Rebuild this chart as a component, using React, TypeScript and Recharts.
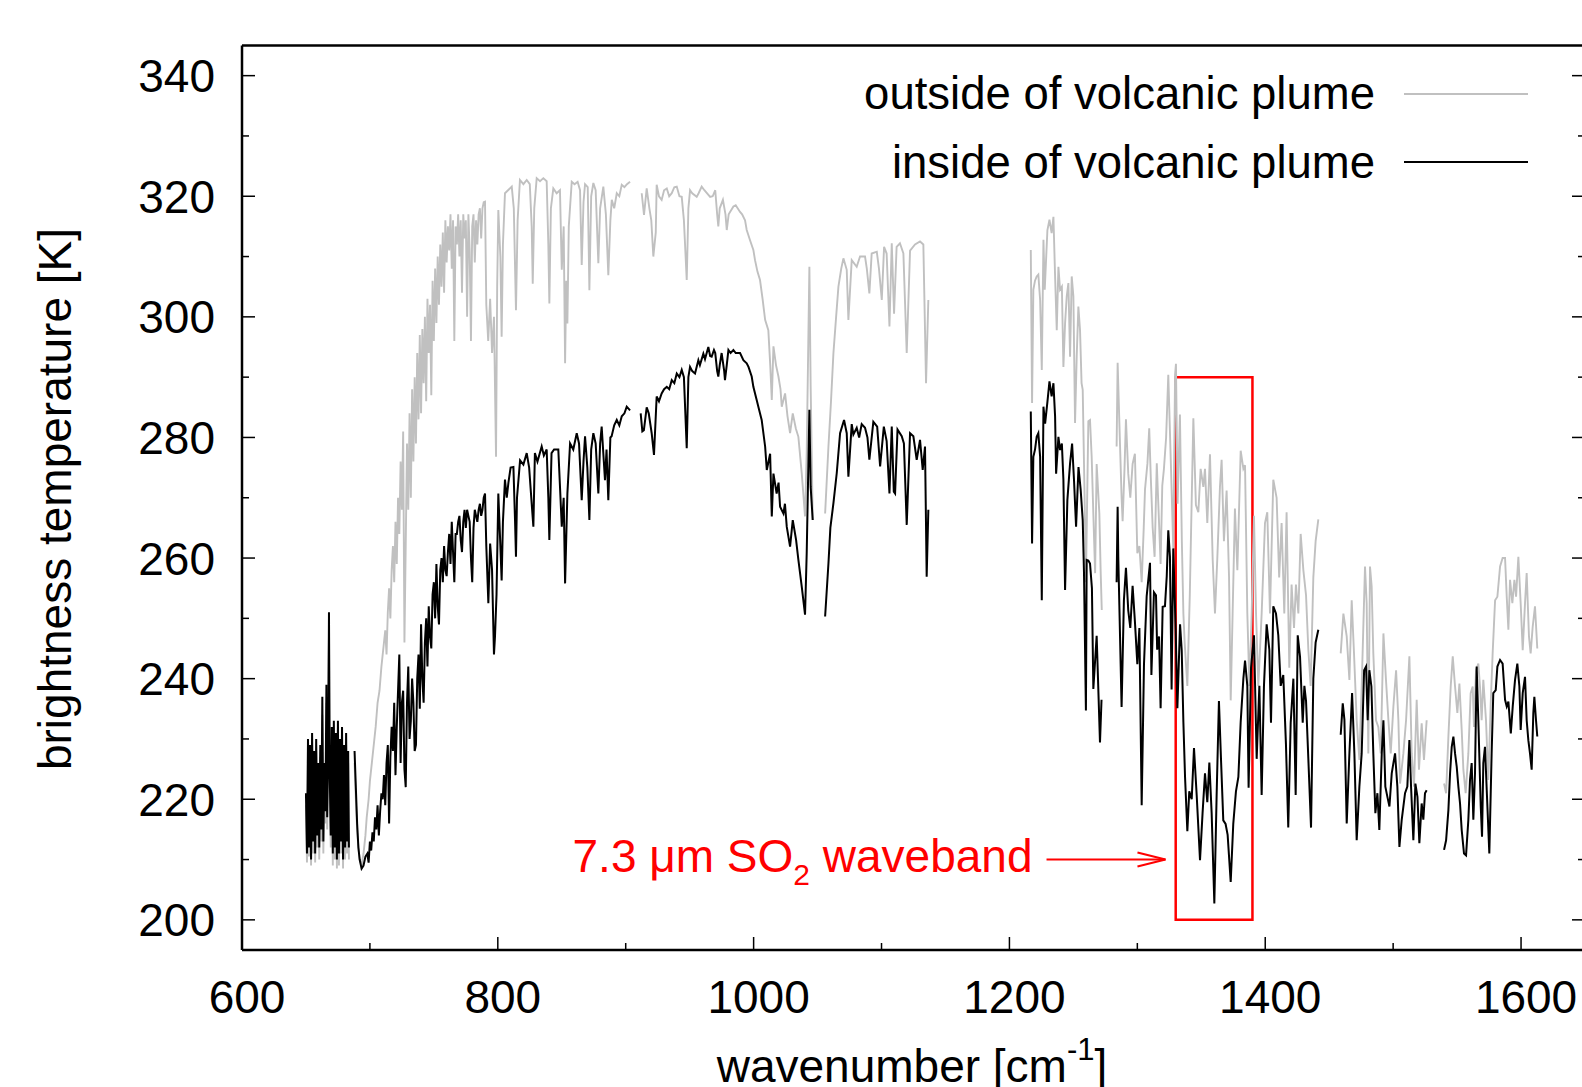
import { LineChart, Line, XAxis, YAxis, ReferenceArea, ReferenceLine } from 'recharts';

type Pt = [number, number];

const xTicks = [600, 700, 800, 900, 1000, 1100, 1200, 1300, 1400, 1500, 1600];
const yTicks = [200, 210, 220, 230, 240, 250, 260, 270, 280, 290, 300, 310, 320, 330, 340];

// inside of volcanic plume (black), one array per continuous piece of spectrum
const inside650: Pt[] = [
  [650, 221], [650.8, 211], [651.6, 230], [652.4, 212], [653.2, 229], [654, 210], [654.8, 231], [655.6, 213],
  [656.4, 228], [657.2, 211], [658, 230], [658.8, 214], [659.6, 226], [660.4, 212], [661.2, 229], [662, 215],
  [662.8, 237], [663.6, 213], [664.4, 226], [665.2, 218], [666, 239], [666.6, 217], [667.4, 228], [668, 251],
  [668.6, 224], [669.4, 214], [670.2, 232], [671, 211], [671.8, 233], [672.6, 212], [673.4, 231], [674.2, 210],
  [675, 233], [675.8, 211], [676.6, 230], [677.4, 213], [678.2, 232], [679, 210], [679.8, 229], [680.6, 212],
  [681.4, 231], [682.2, 213], [683, 228], [683.6, 212]
];
const inside688: Pt[] = [
  [688, 228], [689, 222], [690, 216], [691, 212], [692, 210], [693.5, 208.5], [695, 209], [696.5, 210.5],
  [698, 211], [699, 209.5], [700, 213], [701, 211.5], [702, 214.5], [703, 213], [704, 217], [705, 215],
  [706, 219], [707, 214], [708, 218], [709, 221], [710, 220], [711, 224], [712, 219], [713, 226], [714, 229],
  [715, 216], [716, 227], [717, 232], [718, 228], [719, 236], [720, 224], [721, 232], [722, 238], [723, 244],
  [724, 226], [725, 236], [726, 238], [727, 225], [728, 222], [729, 236], [730, 242], [731, 230], [732, 233],
  [733, 240], [734, 236], [735, 228], [736, 229], [737, 240], [738, 244], [739, 235], [740, 249], [741, 240],
  [742, 236], [743, 246], [744, 250], [745, 242], [746, 252], [747, 247], [748, 245], [749, 254], [750, 256],
  [751, 250], [752, 259], [753, 252], [754, 249], [755, 258], [756, 260], [757, 256], [758, 262], [759, 258],
  [760, 257], [761, 261], [762, 264], [763, 259], [764, 266], [765, 261], [766, 256], [767, 264], [768, 264],
  [769, 266], [770, 267], [771, 263], [772, 261], [773, 266], [774, 268], [775, 265], [776, 268], [777, 267],
  [778, 266], [779, 260], [780, 256], [781, 265], [782, 268], [783, 267], [784, 266], [785, 268], [786, 269],
  [787, 267], [788, 268], [789, 270], [790, 270.7], [791, 262], [792.6, 252.5], [794, 262.4], [795.5, 258],
  [797, 244], [797.8, 247], [799, 254], [800.4, 270.7], [802, 262], [803, 256.3], [804, 266], [805.6, 273],
  [807, 270], [808.3, 272.5], [810, 275], [812.2, 275.1], [813.5, 266], [814.2, 260.2], [815, 270],
  [817.4, 276.2], [820, 275.5], [822.6, 277.4], [824.5, 275], [826.5, 269], [827.8, 265.2], [829, 277.4],
  [831, 276], [834.3, 278.5], [836, 277], [838.2, 278], [839.5, 270], [840.3, 263], [842, 277.4], [844, 278],
  [847.3, 278], [849, 270], [850, 265.2], [851.5, 270], [852.6, 255.8], [854.4, 270.7], [856.5, 279],
  [859, 278], [861.7, 280.7], [863.5, 279], [865.6, 269.6], [867, 276], [868.2, 280.2], [870, 275],
  [871.6, 266.3], [873, 278], [874.7, 280.7], [876.5, 279], [878.6, 270.7], [880, 279], [881.2, 281.8],
  [883.8, 272.9], [885, 278], [886.4, 269.6], [888, 280], [889, 280.2], [891, 282], [893, 282.9], [895, 282],
  [896.9, 283.5], [899, 284], [900.8, 285.1], [903.4, 284.5]
];
const inside912: Pt[] = [
  [911.7, 284], [913, 281], [914.2, 281.2], [916.4, 285], [918, 284], [920.3, 280.7], [922.1, 277.1],
  [924.2, 286.8], [926, 286], [928.1, 287.3], [930, 288], [932.1, 288.4], [934, 288], [936, 289.5], [938, 289],
  [939.9, 290.6], [942, 290], [943.8, 291.2], [945.5, 290], [947.7, 278.2], [949, 290], [950.3, 291.7],
  [952, 291], [954.2, 290.6], [956.8, 292.8], [958, 292], [960.7, 293.9], [962, 293], [964.6, 295],
  [966, 293.5], [967.2, 293.4], [969, 294.5], [970, 294], [971.5, 291], [972.4, 290.1], [973.5, 292],
  [975, 294], [977, 291], [977.6, 289.5], [979, 292], [980.3, 294.5], [982, 294], [984.2, 294.5], [986, 294],
  [988.1, 294], [989.4, 294], [992, 292.8], [994.6, 292.3], [996, 291.7], [998.5, 290.1], [999.8, 288.4],
  [1002.4, 286.2], [1003.7, 285.1], [1006.3, 282.9], [1009, 278.5], [1010.3, 274.6], [1012.9, 277.3],
  [1014.2, 266.9], [1015.5, 274], [1018, 270.7], [1019.5, 272.5], [1020.7, 268.5], [1023.3, 267.4],
  [1024.5, 269], [1025.9, 265.2], [1028.5, 261.9], [1030.6, 266.3], [1033.2, 263], [1035, 259.7],
  [1037.6, 255.3], [1040.2, 250.6], [1041.5, 260.8], [1043.6, 284.6], [1044.6, 271.8], [1046.2, 266.3]
];
const inside1056: Pt[] = [
  [1055.9, 250.3], [1058.5, 259.1], [1060, 265], [1062.4, 269.1], [1065, 274.1], [1067.6, 280.7],
  [1070.7, 282.9], [1072.8, 280.7], [1074.1, 273.5], [1076.7, 282.2], [1078, 280.5], [1080.6, 281.6],
  [1082.5, 280], [1084.5, 282.2], [1087.1, 281.6], [1089, 280], [1090.5, 276.3], [1093.6, 282.6],
  [1096.6, 281.8], [1098.9, 275.2], [1101.8, 281.8], [1104, 279.4], [1106.2, 270.7], [1108, 281.8],
  [1109.6, 271], [1110.6, 270.7], [1112.5, 281.3], [1115.8, 280.2], [1117.5, 279], [1119.7, 265.5],
  [1122.3, 280.7], [1124.9, 280.2], [1127.5, 276.3], [1130.1, 279.6], [1132.2, 274.6], [1134, 278.5],
  [1135.3, 256.9], [1136.6, 268]
];
const inside1217: Pt[] = [
  [1216.7, 284.3], [1217.7, 262.4], [1218.7, 276.8], [1220, 278], [1221.3, 280.1], [1222.6, 280.7],
  [1224, 276.8], [1225.3, 253], [1226.6, 285.1], [1227.9, 282.3], [1229.7, 285.9], [1231.3, 289.3],
  [1233, 286.8], [1234.4, 289], [1235.7, 283.5], [1236.5, 274], [1238.3, 280.1], [1239.6, 277.9], [1241, 279],
  [1242.2, 273], [1243.5, 254.7], [1245.3, 269.6], [1247.4, 275.7], [1249, 279], [1250.5, 272.9],
  [1252.1, 265.2], [1254, 275.1], [1255.7, 271.3], [1257.3, 266.3], [1258.3, 257.5], [1259.8, 234.7],
  [1260.4, 259.7], [1261.7, 259.6], [1263, 259.1], [1264.5, 255], [1265.6, 238.3], [1268.2, 247.1],
  [1270.8, 229.4], [1272, 236.5]
];
const inside1284: Pt[] = [
  [1283.8, 256], [1284.6, 268.5], [1285.1, 260.2], [1287.7, 235.3], [1289.5, 253], [1291.1, 258.4],
  [1292.9, 251.3], [1294.5, 248.4], [1296.3, 255.4], [1298.1, 249.5], [1300, 242.4], [1301.6, 248.4],
  [1303.4, 219], [1305.2, 242.4], [1307.3, 253.7], [1309.9, 259.2], [1311, 240.6], [1313, 254.3],
  [1314.6, 253.8], [1315.5, 244.8], [1317, 247], [1318.2, 235.1], [1319.8, 251.9], [1321.6, 252], [1323, 257],
  [1324.2, 264.6], [1325.5, 260.2], [1326.8, 238.2], [1328.1, 261.6], [1330, 248], [1331.3, 235.1],
  [1333.4, 249], [1334.7, 244.7], [1336, 232.8], [1337.3, 223.7], [1339.1, 214.7], [1340.6, 221.3],
  [1342.5, 220], [1344.3, 228.5], [1346.4, 220.7], [1349, 209.9], [1351, 217.7], [1352.9, 224.3],
  [1354.7, 219.5], [1356.3, 226.1], [1358.1, 217.7], [1360.2, 202.7], [1362, 220.7], [1363.8, 236.3],
  [1365.4, 226.7], [1367.2, 216.5], [1369, 215.9], [1370.6, 214.1], [1373, 206.3], [1375, 215.9],
  [1377.1, 221.3], [1379, 223.7], [1380.8, 232.8], [1382.9, 240], [1384.2, 243], [1386, 238.8], [1387, 221.9],
  [1388.9, 241.8], [1391.2, 247.2], [1393.3, 226.7], [1395.4, 238.8], [1397.2, 220.7], [1399, 238.8],
  [1401.1, 249], [1403.2, 244.8], [1404.5, 232.7], [1406.3, 252], [1408.4, 250.8], [1410.2, 247.2],
  [1412.1, 238.8], [1414.1, 240.6], [1416.2, 229.1], [1418, 215.3], [1419.9, 232.7], [1422, 240],
  [1423.8, 220.7], [1425.4, 247.2], [1427.2, 243.6], [1429.3, 232.7], [1430.6, 238.8], [1431.9, 236.3],
  [1433.7, 226.7], [1435.8, 215.3], [1437.6, 240], [1439.4, 246], [1441.5, 248.1]
];
const inside1459: Pt[] = [
  [1459, 230.7], [1460.6, 235.9], [1461.9, 233.2], [1463.7, 216], [1465.8, 227.6], [1467.9, 237.6],
  [1469.7, 227.6], [1471.5, 213.2], [1473.6, 222.1], [1475.4, 227.6], [1477.3, 241.4], [1478.8, 242],
  [1480.1, 233.1], [1481.4, 241.4], [1483, 238.7], [1484.5, 227.6], [1486.1, 217.7], [1487.7, 221],
  [1489.2, 214.9], [1491.1, 227.6], [1492.4, 233.1], [1493.9, 222.1], [1495.5, 220.4], [1497.1, 218.8],
  [1498.9, 224.3], [1500.2, 226], [1501.5, 227.6], [1503.3, 222.1], [1504.9, 212.1], [1506.7, 216.6],
  [1509.3, 221], [1511.1, 222.1], [1512.7, 229.8], [1514, 222.1], [1515.8, 213.2], [1517.4, 222.6],
  [1519, 220.4], [1520.5, 212.7], [1522.3, 219.3], [1523.6, 216.6], [1524.9, 221], [1526.2, 221.5]
];
const inside1540: Pt[] = [
  [1539.8, 211.6], [1541.4, 213.2], [1543.2, 218.2], [1544.5, 224.3], [1545.8, 228.7], [1547.1, 230.4],
  [1548.4, 227.6], [1549.7, 225.4], [1551, 222.1], [1552.3, 219.3], [1553.6, 214.9], [1555.4, 211],
  [1557, 210.7], [1558.8, 216.6], [1560.1, 223.2], [1561.4, 226], [1562.7, 216.6], [1564, 224.3],
  [1565.3, 242], [1566.6, 233.1], [1568.5, 218.8], [1569.5, 213.8], [1570.5, 226], [1571.8, 228.7],
  [1573.6, 219.3], [1575.2, 211], [1577, 227.6], [1578.3, 237.6], [1580.2, 238.1], [1581.5, 242],
  [1583.6, 243.1], [1585.6, 242.5], [1587.5, 236.5], [1588.8, 235.4], [1590.1, 236.2], [1592, 230.9],
  [1593.5, 235.4], [1595.3, 239.8], [1597.1, 242.5], [1598.7, 238.7], [1599.7, 231.5], [1601.3, 237.6],
  [1603.1, 240.3], [1604.4, 233.1], [1605.7, 229.8], [1607, 227.6], [1608.3, 224.9], [1609.6, 234.3],
  [1610.4, 237], [1611.7, 233.1], [1612.7, 230.4]
];

// outside of volcanic plume (grey)
const outside650: Pt[] = [
  [650, 219], [650.8, 209.5], [651.6, 228], [652.4, 210.5], [653.2, 227], [654, 209], [654.8, 229], [655.6, 211],
  [656.4, 226], [657.2, 209.5], [658, 228], [658.8, 212], [659.6, 224], [660.4, 210], [661.2, 227], [662, 213],
  [662.8, 234], [663.6, 211], [664.4, 224], [665.2, 216], [666, 236], [666.6, 215], [667.4, 240], [668, 247],
  [668.6, 222], [669.4, 212], [670.2, 230], [671, 209], [671.8, 231], [672.6, 210], [673.4, 229], [674.2, 208.5],
  [675, 231], [675.8, 209], [676.6, 228], [677.4, 211], [678.2, 230], [679, 208.5], [679.8, 227], [680.6, 210],
  [681.4, 229], [682.2, 211], [683, 226], [683.6, 210]
];
const outside688: Pt[] = [
  [688, 226], [689, 220], [690, 215], [691, 212], [692, 210], [693.5, 209], [695, 211], [696.5, 214],
  [697.5, 217], [699, 220], [700, 223], [701.5, 226], [703, 229], [704.5, 232], [706, 236], [707.5, 238],
  [709, 242], [710.5, 245], [712, 248], [713, 244], [714, 251], [715, 255], [716, 250], [717, 258], [718, 262],
  [719, 256], [720, 266], [721, 259], [722, 270], [723, 264], [724, 276], [725, 268], [726, 281], [727, 246],
  [728, 262], [729, 279], [730, 268], [731, 284], [732, 270], [733, 288], [734, 276], [735, 290], [736, 279],
  [737, 294], [738, 283], [739, 297], [740, 284], [741, 298], [742, 289], [743, 300], [744, 286], [745, 303],
  [746, 294], [747, 302], [748, 287], [749, 306], [750, 296], [751, 308], [752, 299], [753, 310], [754, 302],
  [755, 312], [756, 305], [757, 314], [758, 304], [759, 316], [760, 309], [761, 315], [762, 311], [763, 317],
  [764, 308], [765, 316], [766, 296], [767, 315], [768, 312], [769, 317], [770, 310], [771, 316], [772, 304],
  [773, 317], [774, 313], [775, 316], [776, 300], [777, 317], [778, 311], [779, 296], [780, 315], [781, 317],
  [782, 309], [783, 316], [784, 312], [785, 317], [786, 318], [787, 313], [788, 318], [789, 319],
  [790, 319.1], [791, 302], [792.5, 296], [794, 303], [795.5, 294], [797, 300], [798.6, 276.8], [799.5, 305],
  [800.4, 317.7], [802, 310], [803, 296.7], [804, 312], [805.6, 320.5], [808, 321], [810.9, 321.6],
  [812.5, 318], [814.2, 301.1], [815.5, 316], [817.3, 322.7], [820, 322], [822.6, 322.7], [825, 322],
  [826.5, 315], [827.3, 305.5], [828.5, 318], [830.4, 323], [833, 322.5], [835.6, 323], [838.2, 322.5],
  [839.5, 312], [840.3, 302.2], [841.5, 318], [843.4, 321.3], [846, 320.5], [848.6, 321], [850, 307.8],
  [851.5, 315], [852.6, 292.3], [853.5, 306], [854.4, 298.9], [855.5, 315], [857.8, 322.4], [860, 322],
  [862.4, 322.4], [864.3, 321], [865.6, 308.6], [867, 319], [868.2, 322], [870.3, 321.5], [871.6, 304.4],
  [873, 320], [874.7, 322.2], [876.5, 321], [878.6, 308.9], [880, 318], [882.5, 321.6], [884.5, 317],
  [886.4, 306.9], [888, 316], [889.1, 319.4], [891, 318], [893, 320.5], [895, 320], [896.9, 321.9],
  [899, 321.5], [901, 322], [903.4, 322.4]
];
const outside912: Pt[] = [
  [912.5, 320.5], [914.3, 316.9], [916.4, 321.3], [918.5, 318], [920, 316], [921.6, 310], [923.5, 314],
  [924.2, 321.9], [926, 320], [928.1, 319.4], [930, 321], [932.1, 321.3], [934, 320], [936, 320.5],
  [938, 321.5], [939.9, 321.6], [942, 320], [943.8, 319.9], [945.5, 316], [947.7, 306.1], [949, 318],
  [950.3, 321], [952, 320.5], [955.5, 319.9], [957, 320.5], [959.4, 321.6], [961.5, 321], [966, 319.9],
  [968, 320], [970, 321], [971.5, 317], [972.4, 315], [973.5, 318], [976, 319.4], [978, 317], [979, 314.4],
  [980.5, 317], [984.2, 318.3], [986, 318.5], [989.4, 317.4], [991, 317], [993.3, 316], [994.6, 314.4],
  [997.2, 312.7], [999.8, 311.1], [1001.1, 309.4], [1003, 307.5], [1005, 306.1], [1007, 303], [1009, 299.5],
  [1011.5, 297.8], [1013, 292], [1014.2, 286.2], [1015.5, 295.1], [1017.5, 292], [1019.4, 290.1],
  [1021, 288], [1022, 285.1], [1024.6, 287.3], [1026.5, 283.5], [1028.5, 280.7], [1030.6, 284],
  [1033, 281.5], [1035, 280.1], [1037.6, 274.1], [1040.2, 266.9], [1041.5, 277.4], [1043.6, 308.3],
  [1044.6, 288.4], [1046.2, 266.3]
];
const outside1056: Pt[] = [
  [1055.9, 267.4], [1058.5, 278.5], [1060.5, 286], [1062.4, 294], [1064.5, 300], [1066.3, 305],
  [1068.5, 308], [1070.2, 309.7], [1072.8, 307.8], [1074.1, 299.5], [1076.7, 309.4], [1080.6, 308.3],
  [1083.2, 310], [1087.1, 310], [1088.5, 308], [1090.5, 303.9], [1092.3, 310.5], [1096.3, 310.8], [1098, 308],
  [1100.2, 302.8], [1102, 311.6], [1104, 310.5], [1106.2, 298.4], [1108, 312.2], [1109.8, 300.5],
  [1111.8, 311.6], [1114.4, 312.2], [1117.1, 310.5], [1119.7, 294], [1122.3, 311], [1126.2, 312],
  [1130.1, 312.5], [1132.7, 312], [1134.8, 289], [1136.6, 302.8]
];
const outside1217: Pt[] = [
  [1216.7, 311.1], [1217.7, 285.7], [1218.7, 304.5], [1220, 306], [1221.3, 306.7], [1222.6, 307],
  [1224, 302.8], [1225.3, 291.2], [1226.6, 312.8], [1227.6, 304.5], [1229.7, 314.4], [1231.3, 316.1],
  [1233, 313.9], [1234.4, 316.6], [1235.7, 306.7], [1237, 297.8], [1238.3, 308.3], [1239.6, 304.5],
  [1241, 305], [1242.2, 291.7], [1243.5, 298.9], [1244.8, 303.4], [1246.1, 305.6], [1247.4, 293.4],
  [1248.7, 306.7], [1250, 303.4], [1251.3, 282.4], [1252.6, 293.4], [1253.9, 301.7], [1255.2, 297.8],
  [1256.4, 289], [1257.3, 287.9], [1259.1, 265.8], [1259.8, 256], [1261.7, 282.7], [1263, 282.9],
  [1264.3, 276.8], [1265.6, 267.3], [1267, 257.5], [1268.2, 275.6], [1270.3, 267.4], [1271.3, 258],
  [1272.2, 251.4]
];
const outside1284: Pt[] = [
  [1283.8, 278.5], [1284.6, 292.4], [1286.5, 278.5], [1287.7, 270], [1288.5, 266.1], [1290, 275],
  [1291.1, 283], [1292.9, 274], [1294.5, 270], [1296.3, 275.6], [1298.1, 277.3], [1300, 260.8],
  [1301.6, 262], [1303.4, 256], [1305, 265], [1306, 271.4], [1307.9, 275.7], [1309.3, 281.5], [1310.5, 273.5],
  [1312, 265], [1313.5, 260.2], [1315.2, 275.7], [1316.4, 269], [1318.2, 259], [1319.5, 272], [1320.8, 274.8],
  [1322.5, 280], [1324.2, 290.4], [1325.9, 278], [1328.1, 261.6], [1329.5, 290.4], [1330.2, 292.2],
  [1331.5, 269], [1333.3, 283.8], [1334.8, 262.8], [1336, 250.8], [1337, 246], [1339.1, 238.8], [1341, 253.8],
  [1343.8, 283.2], [1345.8, 268.8], [1347.7, 267.6], [1349.5, 274.8], [1351.6, 271.8], [1352.9, 274.8],
  [1354.7, 265.8], [1356.8, 277.2], [1358.9, 259.8], [1360.7, 250.8], [1362.5, 259.8], [1364.6, 271.8],
  [1365.9, 276.3], [1367.7, 262.8], [1369.8, 271.2], [1371.7, 256.8], [1373, 236.4], [1374.5, 250.8],
  [1376.3, 268.2], [1378.2, 258], [1380.8, 277.8], [1382.9, 274.8], [1384.2, 275.4], [1386, 250.8],
  [1387.6, 238.8], [1389.4, 250.8], [1391.2, 267], [1392.8, 250.8], [1394.6, 238.8], [1397.2, 250.8],
  [1399.8, 265.8], [1401.6, 267.6], [1403.7, 250.8], [1406.3, 273], [1408.9, 270], [1410.9, 256.8],
  [1412.8, 265.8], [1414.9, 250.8], [1416.7, 267.6], [1418.8, 241.8], [1420.6, 255.6], [1422.5, 248.4],
  [1424, 255.6], [1425.9, 250.8], [1427.7, 264], [1429.8, 258], [1431.9, 253.8], [1433.7, 244.8],
  [1435.5, 238.8], [1437.6, 256.8], [1439.4, 262.8], [1441.5, 266.4]
];
const outside1459: Pt[] = [
  [1459, 244.2], [1461.1, 250.8], [1463.7, 247], [1465.8, 239.8], [1467.6, 253], [1469.4, 244.2],
  [1471.5, 233.1], [1473.6, 226.5], [1475.4, 238.7], [1478, 258.6], [1479.3, 252.5], [1480.6, 227.6],
  [1481.9, 258.6], [1483.2, 255.3], [1484.5, 244.2], [1486.6, 233.1], [1488.4, 232], [1490.3, 227.6],
  [1492.4, 247.5], [1494.4, 239.8], [1496.3, 233.1], [1498.1, 227.6], [1500.2, 235.4], [1502.3, 241.4],
  [1504.1, 233.1], [1505.4, 222.6], [1508, 227.6], [1510.1, 233.1], [1512.7, 243.7], [1514.5, 227.6],
  [1516.3, 222.1], [1518.4, 236.5], [1520.2, 224.9], [1522.3, 232.6], [1524.1, 226.5], [1526.2, 233.1]
];
const outside1540: Pt[] = [
  [1539.8, 222.6], [1541.4, 221], [1543.2, 230.4], [1545, 238.7], [1546.6, 243.7], [1548.4, 238.7],
  [1550.2, 234.3], [1551.8, 239.2], [1553.6, 231.5], [1554.9, 224.9], [1556.7, 221], [1558.8, 227.6],
  [1560.6, 237.6], [1562.2, 238.7], [1563.2, 232], [1564.8, 241.4], [1566.6, 242.5], [1567.9, 238.7],
  [1569.2, 233.1], [1570.5, 239.8], [1572.6, 233.1], [1574.4, 223.2], [1576.3, 235.9], [1577.8, 244.2],
  [1579.7, 253], [1581.5, 253.6], [1583.6, 258.6], [1585.6, 260], [1587.5, 260], [1588.8, 253.6],
  [1590.1, 248.1], [1591.4, 256.4], [1593.2, 252.5], [1594.8, 256.4], [1596.1, 253.6], [1597.9, 260.2],
  [1599.7, 252.5], [1601.3, 244.7], [1603.1, 252.5], [1604.4, 257.5], [1606.2, 247], [1607.5, 244.2],
  [1609.1, 248.6], [1610.9, 252], [1612.7, 245]
];

// SO2 band marker and arrow (data units)
const bandRange = [1330, 1390];
const bandTemps = [200, 290];
const arrowFrom = { x: 1229, y: 210 };
const arrowTo = { x: 1322, y: 210 };

const GREY = '#c0c0c0';
const RED = '#ff0000';
const FONT = '"Liberation Sans", Arial, Helvetica, sans-serif';
const PLOT = { left: 242, top: 45.5, right: 1585, bottom: 950 };
const CHART_W = 1600;
const CHART_H = 1087;

// join pieces, a null row between them breaks the line
function toRows(segments: Pt[][]) {
  const rows: { wn: number; bt: number | null }[] = [];
  segments.forEach((seg, i) => {
    if (i > 0) {
      const prev = segments[i - 1];
      rows.push({ wn: (prev[prev.length - 1][0] + seg[0][0]) / 2, bt: null });
    }
    seg.forEach(([wn, bt]) => rows.push({ wn, bt }));
  });
  return rows;
}

const outsideRows = toRows([outside650, outside688, outside912, outside1056, outside1217, outside1284, outside1459, outside1540]);
const insideRows = toRows([inside650, inside688, inside912, inside1056, inside1217, inside1284, inside1459, inside1540]);

const BottomTick = ({ x, payload }: any) => {
  const major = payload.value % 200 === 0;
  return (
    <g>
      <line x1={x} x2={x} y1={PLOT.bottom} y2={PLOT.bottom - (major ? 13 : 7)} stroke="#000" strokeWidth={1.5} />
      {major && (
        <text x={x + 5} y={1013} textAnchor="middle" fontSize={46} fontFamily={FONT} fill="#000">
          {payload.value}
        </text>
      )}
    </g>
  );
};

const TopTick = ({ x, payload }: any) => {
  const major = payload.value % 200 === 0;
  return <line x1={x} x2={x} y1={PLOT.top} y2={PLOT.top + (major ? 13 : 7)} stroke="#000" strokeWidth={1.5} />;
};

const LeftTick = ({ y, payload }: any) => {
  const major = payload.value % 20 === 0;
  return (
    <g>
      <line x1={PLOT.left} x2={PLOT.left + (major ? 13 : 7)} y1={y} y2={y} stroke="#000" strokeWidth={1.5} />
      {major && (
        <text x={215} y={y + 16.5} textAnchor="end" fontSize={46} fontFamily={FONT} fill="#000">
          {payload.value}
        </text>
      )}
    </g>
  );
};

const RightTick = ({ y, payload }: any) => {
  const major = payload.value % 20 === 0;
  return <line x1={PLOT.right} x2={PLOT.right - (major ? 13 : 7)} y1={y} y2={y} stroke="#000" strokeWidth={1.5} />;
};

const ArrowShape = ({ x1, y1, x2, y2 }: any) => (
  <g>
    <line x1={x1} y1={y1} x2={x2} y2={y2} stroke={RED} strokeWidth={2} />
    <polyline points={`${x2 - 28},${y2 - 7} ${x2},${y2} ${x2 - 28},${y2 + 7}`} fill="none" stroke={RED} strokeWidth={2} />
    <text x={x1 - 14} y={y1 + 12} textAnchor="end" fontSize={46} fontFamily={FONT} fill={RED}>
      7.3 μm SO<tspan fontSize={30} dy={13}>2</tspan>
      <tspan dy={-13}> waveband</tspan>
    </text>
  </g>
);

export default function App() {
  return (
    <div style={{ position: 'absolute', left: 0, top: 0, width: 1582, height: 1087, overflow: 'hidden', background: '#fff' }}>
      {/* axes take 1px each, margins are trimmed so the frame lands where the reference has it */}
      <LineChart
        width={CHART_W}
        height={CHART_H}
        margin={{
          top: PLOT.top - 1,
          right: CHART_W - PLOT.right - 1,
          bottom: CHART_H - PLOT.bottom - 1,
          left: PLOT.left - 1
        }}
      >
        <XAxis
          dataKey="wn"
          type="number"
          domain={[600, 1650]}
          ticks={xTicks}
          interval={0}
          allowDataOverflow
          height={1}
          tickSize={0}
          tickMargin={0}
          tickLine={false}
          axisLine={{ stroke: '#000', strokeWidth: 2.5 }}
          tick={BottomTick}
        />
        <XAxis
          xAxisId="top"
          orientation="top"
          type="number"
          domain={[600, 1650]}
          ticks={xTicks}
          interval={0}
          allowDataOverflow
          height={1}
          tickSize={0}
          tickLine={false}
          axisLine={{ stroke: '#000', strokeWidth: 2.5 }}
          tick={TopTick}
        />
        <YAxis
          type="number"
          domain={[195, 345]}
          ticks={yTicks}
          interval={0}
          allowDataOverflow
          width={1}
          tickSize={0}
          tickMargin={0}
          tickLine={false}
          axisLine={{ stroke: '#000', strokeWidth: 2.5 }}
          tick={LeftTick}
        />
        <YAxis
          yAxisId="right"
          orientation="right"
          type="number"
          domain={[195, 345]}
          ticks={yTicks}
          interval={0}
          allowDataOverflow
          width={1}
          tickSize={0}
          tickLine={false}
          axisLine={{ stroke: '#000', strokeWidth: 2.5 }}
          tick={RightTick}
        />
        <Line
          data={outsideRows}
          dataKey="bt"
          stroke={GREY}
          strokeWidth={1.9}
          dot={false}
          activeDot={false}
          isAnimationActive={false}
          connectNulls={false}
        />
        <Line
          data={insideRows}
          dataKey="bt"
          stroke="#000"
          strokeWidth={2}
          dot={false}
          activeDot={false}
          isAnimationActive={false}
          connectNulls={false}
        />
        <ReferenceArea
          x1={bandRange[0]}
          x2={bandRange[1]}
          y1={bandTemps[0]}
          y2={bandTemps[1]}
          fill="none"
          fillOpacity={0}
          stroke={RED}
          strokeWidth={2.5}
        />
        <ReferenceLine segment={[arrowFrom, arrowTo]} shape={ArrowShape} />
      </LineChart>

      <svg width={1582} height={1087} style={{ position: 'absolute', left: 0, top: 0, pointerEvents: 'none' }}>
        <text x={1375} y={109} textAnchor="end" fontSize={45.5} fontFamily={FONT} fill="#000">outside of volcanic plume</text>
        <line x1={1404} x2={1528} y1={94} y2={94} stroke={GREY} strokeWidth={2} />
        <text x={1375} y={177.5} textAnchor="end" fontSize={45.5} fontFamily={FONT} fill="#000">inside of volcanic plume</text>
        <line x1={1404} x2={1528} y1={162} y2={162} stroke="#000" strokeWidth={2} />
        <text
          x={71}
          y={499}
          transform="rotate(-90, 71, 499)"
          textAnchor="middle"
          fontSize={46}
          fontFamily={FONT}
          fill="#000"
        >
          brightness temperature [K]
        </text>
        <text x={912} y={1082} textAnchor="middle" fontSize={46} fontFamily={FONT} fill="#000">
          wavenumber [cm<tspan fontSize={31} dy={-22}>-1</tspan>
          <tspan dy={22}>]</tspan>
        </text>
      </svg>
    </div>
  );
}
